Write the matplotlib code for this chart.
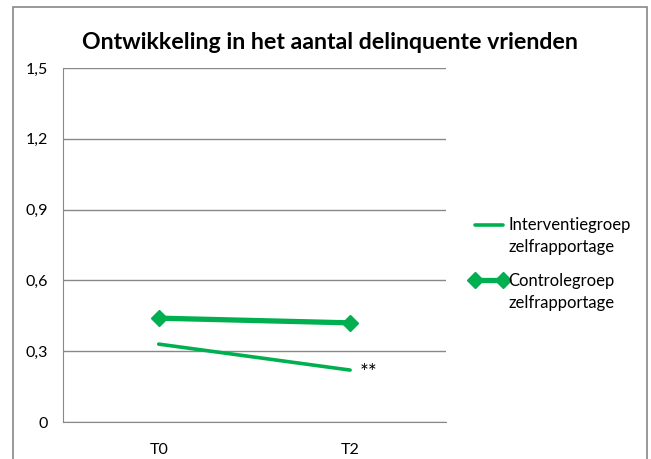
import matplotlib
matplotlib.use("Agg")
import matplotlib.pyplot as plt
import numpy as np
from matplotlib.patches import Rectangle
from matplotlib.ticker import FuncFormatter
from matplotlib.legend_handler import HandlerLine2D

plt.rcParams['font.family'] = ['Lato', 'DejaVu Sans']

# data
categories = ['T0', 'T2']
interventie = [0.33, 0.22]
controle = [0.44, 0.42]
labels = ['Interventiegroep\nzelfrapportage', 'Controlegroep\nzelfrapportage']
yticks = [0, 0.3, 0.6, 0.9, 1.2, 1.5]

green = '#00B050'
grid_grey = '#888888'


class LiftedLine(HandlerLine2D):
    # legend handle next to the first text line (Excel style)
    def create_artists(self, legend, orig_handle, xdescent, ydescent, width, height, fontsize, trans):
        arts = super().create_artists(legend, orig_handle, xdescent, ydescent,
                                      width, height, fontsize, trans)
        for a in arts:
            a.set_ydata(np.asarray(a.get_ydata()) + 0.72 * fontsize)
        return arts


fig = plt.figure(figsize=(6.51, 4.59), dpi=100)
ax = fig.add_axes([0.0968, 0.0806, 0.588, 0.7714])

x = list(range(len(categories)))
l1, = ax.plot(x, interventie, color=green, lw=2.6, solid_capstyle='round', label=labels[0])
l2, = ax.plot(x, controle, color=green, lw=3.8, marker='D', markersize=8.5,
              solid_capstyle='round', label=labels[1])

# significance mark next to last intervention point
ax.annotate('**', (x[-1], interventie[-1]), xytext=(7, -2), textcoords='offset points',
            fontsize=15, va='center', ha='left')

ax.set_xlim(-0.5, len(categories) - 0.5)
ax.set_ylim(0, 1.5)
ax.set_xticks(x)
ax.set_xticklabels(categories)
ax.set_yticks(yticks)
ax.yaxis.set_major_formatter(FuncFormatter(lambda v, p: '0' if v == 0 else f'{v:.1f}'.replace('.', ',')))
ax.tick_params(length=0, labelsize=11.5)
ax.tick_params(axis='x', pad=15)
ax.tick_params(axis='y', pad=11)
ax.grid(axis='y', color=grid_grey, lw=1)
ax.set_axisbelow(True)
for s in ['top', 'right']:
    ax.spines[s].set_visible(False)
for s in ['left', 'bottom']:
    ax.spines[s].set_color(grid_grey)

fig.text(0.507, 0.908, 'Ontwikkeling in het aantal delinquente vrienden',
         ha='center', va='center', fontsize=16.7, fontweight='bold')

leg = ax.legend(loc='upper left', bbox_to_anchor=(1.024, 0.62), frameon=False,
                numpoints=2, handlelength=2.3, handletextpad=0.0,
                labelspacing=1.05, fontsize=12,
                handler_map={l1: LiftedLine(), l2: LiftedLine()})
for t in leg.get_texts():
    t.set_linespacing(1.45)

# chart area border
fig.add_artist(Rectangle((0.02, -0.1), 0.974, 1.085, transform=fig.transFigure,
                         fill=False, edgecolor='#888888', lw=1.2))

fig.savefig('out.png', dpi=100)
